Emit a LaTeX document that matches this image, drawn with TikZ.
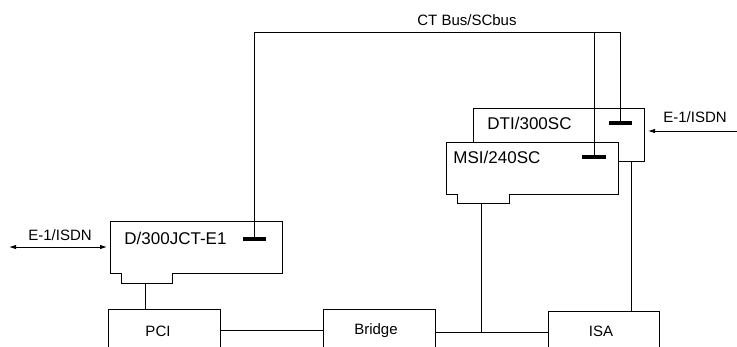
\documentclass[tikz,border=0pt]{standalone}
\usepackage{fontspec}
\setmainfont{Liberation Sans}
\usetikzlibrary{arrows.meta}
\begin{document}
\begin{tikzpicture}[x=1pt,y=-1pt, line width=0.9pt,
  lbl/.style={inner sep=0pt, font=\fontsize{15}{18}\selectfont},
  cardlbl/.style={inner sep=0pt, anchor=west, font=\fontsize{17}{20}\selectfont},
  busbar/.style={line width=4pt},
  card/.style={draw, fill=white},
  box/.style={draw, minimum width=112pt, minimum height=42pt, anchor=north west, inner sep=0pt},
  tipr/.style={-{Latex[length=7pt,width=4.5pt]}},
  tipb/.style={{Latex[length=7pt,width=4.5pt]}-{Latex[length=7pt,width=4.5pt]}}]
\useasboundingbox (0,0) rectangle (737,346);

% bottom boxes
\node[box] (PCI) at (108,309) {};
\node[box] (Bridge) at (323,309) {};
\node[box, minimum width=111pt] (ISA) at (548,311) {};
\node[lbl] (pcil) at (158,331) {PCI};
\node[lbl] (brl) at (376,331) {Bridge};
\node[lbl] (isal) at (601,331) {ISA};

% D/300JCT-E1 card
\draw[card] (110,221) -- (282,221) -- (282,273) -- (172,273) -- (172,283)
  -- (121,283) -- (121,273) -- (110,273) -- cycle;
\node[cardlbl] (dlab) at (124,238) {D/300JCT-E1};
\coordinate (dbar) at (254,239);
\coordinate (dtab) at (145,283);
\coordinate (dleft) at (107,247);

% DTI/300SC card (behind)
\draw[card] (473,108) rectangle (644,161);
\node[cardlbl] (dtilab) at (487,123) {DTI/300SC};
\coordinate (dtibar) at (620,123);
\coordinate (dtibot) at (631,161);
\coordinate (dtiright) at (648,131);

% MSI/240SC card (front)
\draw[card] (446,142) -- (618,142) -- (618,194) -- (509,194) -- (509,203)
  -- (457,203) -- (457,194) -- (446,194) -- cycle;
\node[cardlbl] (msilab) at (453,157) {MSI/240SC};
\coordinate (msibar) at (594,157);
\coordinate (msitab) at (481,203);

% CT bus
\coordinate (busR) at (620,32);
\node[lbl] (buslbl) at (467,20) {CT Bus/SCbus};
\draw (dbar) |- (busR) -- (dtibar);
\draw (msibar) -- (msibar |- busR);

% connector bars
\draw[busbar] ([xshift=-11pt]dbar) -- ([xshift=12pt]dbar);
\draw[busbar] ([xshift=-11pt]dtibar) -- ([xshift=12pt]dtibar);
\draw[busbar] ([xshift=-12pt]msibar) -- ([xshift=12pt]msibar);

% system bus connections
\draw (dtab) -- (dtab |- PCI.north);
\draw (PCI.east) -- (PCI.east -| Bridge.west);
\draw (Bridge.east |- ISA.west) -- (ISA.west);
\draw (msitab) -- (msitab |- ISA.west);
\draw (dtibot) -- (dtibot |- ISA.north);

% E-1/ISDN lines
\coordinate (lend) at (9,247);
\draw[tipb] (lend) -- (dleft);
\node[lbl] (lisdn) at (60,235) {E-1/ISDN};
\coordinate (rend) at (738,131);
\draw[tipr] (rend) -- (dtiright);
\node[lbl] (risdn) at (695,117) {E-1/ISDN};
\end{tikzpicture}
\end{document}
